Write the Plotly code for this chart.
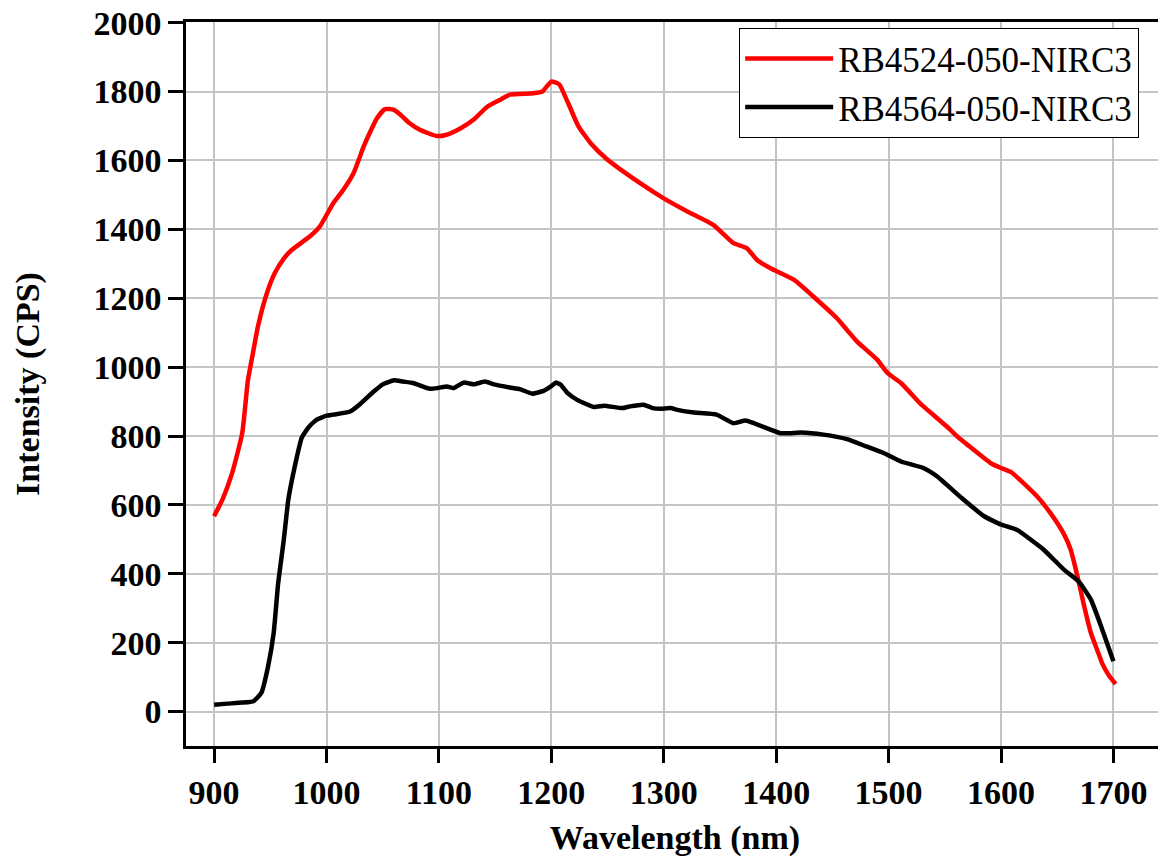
import plotly.graph_objects as go

# Series 1: RB4524-050-NIRC3 (red)
wl_red = [900, 908, 916, 925, 930, 934, 939, 947, 954, 962, 969, 985, 994, 1006, 1015, 1024,
          1033, 1039, 1045, 1052, 1060, 1066, 1074, 1083, 1098, 1106, 1119, 1131, 1143, 1155,
          1163, 1184, 1192, 1200, 1207, 1215, 1224, 1235, 1249, 1279, 1300, 1321, 1344, 1362,
          1374, 1383, 1395, 1416, 1433, 1454, 1463, 1472, 1490, 1499, 1511, 1528, 1531, 1555,
          1561, 1570, 1591, 1600, 1609, 1632, 1644, 1656, 1662, 1668, 1674, 1680, 1686, 1690,
          1696, 1702]
int_red = [567, 620, 692, 808, 960, 1031, 1118, 1215, 1273, 1315, 1340, 1379, 1408, 1476, 1515, 1563,
           1640, 1684, 1723, 1749, 1747, 1732, 1708, 1689, 1671, 1674, 1693, 1719, 1756, 1777,
           1791, 1795, 1800, 1829, 1821, 1766, 1700, 1650, 1605, 1534, 1490, 1452, 1413, 1360,
           1345, 1311, 1287, 1253, 1205, 1142, 1108, 1074, 1021, 983, 954, 895, 886, 818,
           799, 775, 721, 707, 695, 625, 576, 515, 470, 393, 306, 228, 175, 140,
           105, 80]

# Series 2: RB4564-050-NIRC3 (black)
wl_black = [900, 912, 925, 935, 942, 948, 953, 957, 962, 966, 971, 978, 984, 991, 1000, 1006,
            1021, 1030, 1042, 1050, 1060, 1068, 1077, 1092, 1100, 1107, 1113, 1122, 1131, 1141,
            1149, 1163, 1172, 1183, 1193, 1200, 1204, 1208, 1214, 1223, 1238, 1247, 1263, 1270,
            1282, 1290, 1297, 1306, 1312, 1327, 1347, 1362, 1373, 1404, 1422, 1442, 1463, 1480,
            1496, 1511, 1531, 1543, 1565, 1585, 1600, 1614, 1638, 1656, 1669, 1680, 1688, 1700]
int_black = [20, 23, 26, 30, 54, 131, 228, 373, 499, 615, 700, 795, 825, 847, 859, 862,
             871, 893, 929, 950, 962, 958, 954, 937, 940, 944, 939, 955, 950, 958,
             950, 941, 936, 923, 931, 945, 955, 950, 926, 905, 884, 888, 881, 886,
             891, 881, 879, 881, 876, 868, 862, 837, 845, 808, 810, 804, 791, 770,
             750, 726, 707, 683, 620, 567, 543, 528, 470, 412, 378, 325, 257, 146]

x_ticks = [900, 1000, 1100, 1200, 1300, 1400, 1500, 1600, 1700]
y_ticks = [0, 200, 400, 600, 800, 1000, 1200, 1400, 1600, 1800, 2000]

FONT = "Liberation Serif"

fig = go.Figure()
fig.add_trace(go.Scatter(x=wl_red, y=int_red, mode="lines", name="RB4524-050-NIRC3",
                         line=dict(color="#ff0000", width=4.5, shape="spline", smoothing=0.5)))
fig.add_trace(go.Scatter(x=wl_black, y=int_black, mode="lines", name="RB4564-050-NIRC3",
                         line=dict(color="#000000", width=4.5, shape="spline", smoothing=0.4)))

# page body has an 8px default margin, so the figure is sized/offset to compensate
fig.update_layout(
    width=1158, height=859,
    margin=dict(l=178, r=2, t=14, b=121),
    paper_bgcolor="white", plot_bgcolor="white",
    font=dict(family=FONT, color="black"),
    showlegend=True,
    legend=dict(
        x=0.5654, y=0.9917, xanchor="left", yanchor="top",
        bgcolor="white", bordercolor="black", borderwidth=1.2,
        font=dict(family=FONT, size=35, color="black"),
        itemwidth=88, tracegroupgap=0,
    ),
    xaxis=dict(
        range=[875, 1745], tickvals=x_ticks, ticktext=[str(v) for v in x_ticks],
        automargin=True,
        showgrid=True, gridcolor="#c4c4c4", gridwidth=1.5,
        showline=True, linecolor="black", linewidth=2.5, mirror=True,
        ticks="outside", ticklen=14, tickwidth=2.5, tickcolor="black",
        tickfont=dict(family=FONT, size=34, weight="bold", color="black"),
        title=dict(text="Wavelength (nm)", font=dict(family=FONT, size=34, weight="bold", color="black"),
                   standoff=16),
        zeroline=False,
    ),
    yaxis=dict(
        range=[-100, 2002], tickvals=y_ticks, ticktext=[str(v) for v in y_ticks],
        automargin=False, ticklabeloverflow="allow",
        showgrid=True, gridcolor="#c4c4c4", gridwidth=1.5,
        showline=True, linecolor="black", linewidth=2.5, mirror=False,
        ticks="outside", ticklen=15, tickwidth=2.5, tickcolor="black",
        tickfont=dict(family=FONT, size=34, weight="bold", color="black"),
        title=dict(text="Intensity (CPS)", font=dict(family=FONT, size=34, weight="bold", color="black"),
                   standoff=44),
        zeroline=False,
    ),
)

fig.write_html("out.html")
